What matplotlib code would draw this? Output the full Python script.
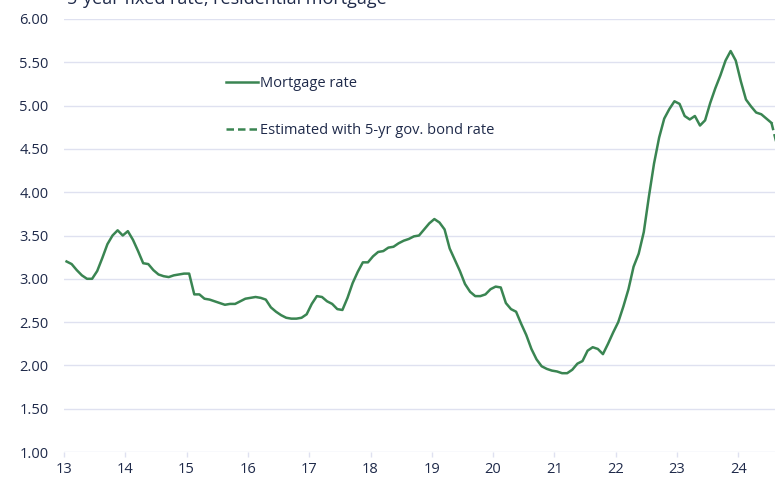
import numpy as np
import matplotlib.pyplot as plt

# monthly 5-year fixed mortgage rate, Jan 2013 - Aug 2024
rate = [3.20, 3.17, 3.10, 3.04, 3.00, 3.00, 3.09, 3.24, 3.40, 3.50, 3.56, 3.50,
        3.55, 3.45, 3.32, 3.18, 3.17, 3.10, 3.05, 3.03, 3.02, 3.04, 3.05, 3.06,
        3.06, 2.82, 2.82, 2.77, 2.76, 2.74, 2.72, 2.70, 2.71, 2.71, 2.74, 2.77,
        2.78, 2.79, 2.78, 2.76, 2.67, 2.62, 2.58, 2.55, 2.54, 2.54, 2.55, 2.59,
        2.71, 2.80, 2.79, 2.74, 2.71, 2.65, 2.64, 2.78, 2.95, 3.08, 3.19, 3.19,
        3.26, 3.31, 3.32, 3.36, 3.37, 3.41, 3.44, 3.46, 3.49, 3.50, 3.57, 3.64,
        3.69, 3.65, 3.57, 3.35, 3.22, 3.09, 2.94, 2.85, 2.80, 2.80, 2.82, 2.88,
        2.91, 2.90, 2.72, 2.65, 2.62, 2.48, 2.35, 2.19, 2.07, 1.99, 1.96, 1.94,
        1.93, 1.91, 1.91, 1.95, 2.02, 2.05, 2.17, 2.21, 2.19, 2.13, 2.25, 2.38,
        2.50, 2.68, 2.88, 3.14, 3.29, 3.54, 3.95, 4.33, 4.63, 4.85, 4.96, 5.05,
        5.02, 4.88, 4.84, 4.88, 4.77, 4.83, 5.03, 5.20, 5.35, 5.52, 5.63, 5.52,
        5.28, 5.07, 4.99, 4.92, 4.90, 4.85, 4.80]
# last month estimated from the 5-yr government bond rate
estimated = [4.80, 4.56]

years = list(range(13, 25))
yticks = [1.0, 1.5, 2.0, 2.5, 3.0, 3.5, 4.0, 4.5, 5.0, 5.5, 6.0]

green = '#3a8552'
navy = '#1f2a4a'
grid = '#dfe1f0'

x = 13 + (np.arange(len(rate)) + 0.5) / 12
x_est = 13 + (np.arange(len(rate) - 1, len(rate) + 1) + 0.5) / 12

plt.rcParams['font.family'] = ['Open Sans', 'DejaVu Sans']

fig = plt.figure(figsize=(7.75, 4.78), dpi=100)
ax = fig.add_axes([64 / 775, 1 - 452 / 478, 1 - 64 / 775, (452 - 19) / 478])

ax.plot(x, rate, color=green, lw=1.8, label='Mortgage rate', solid_joinstyle='round')
ax.plot(x_est, estimated, color=green, lw=1.8, ls=(0, (3, 1.6)),
        label='Estimated with 5-yr gov. bond rate')

ax.set_xlim(13, 13 + (775 - 64) / 61.3)
ax.set_ylim(1, 6)
ax.set_xticks(years)
ax.set_xticklabels([str(y) for y in years])
ax.set_yticks(yticks)
ax.set_yticklabels([f'{v:.2f}' for v in yticks])

ax.grid(axis='y', color=grid, lw=1)
ax.set_axisbelow(True)
for s in ax.spines.values():
    s.set_visible(False)
ax.tick_params(axis='y', length=0, pad=11, labelsize=10.5, labelcolor=navy)
ax.tick_params(axis='x', length=3.5, width=1, color=grid, pad=4,
               labelsize=10.5, labelcolor=navy)

ax.legend(loc='upper left', bbox_to_anchor=(226 / 775, 1 - 76 / 478),
          bbox_transform=fig.transFigure, frameon=False, fontsize=10.5,
          labelcolor=navy, borderpad=0, borderaxespad=0, handlelength=2.2,
          handletextpad=0.15, labelspacing=2.2)

fig.text(67 / 775, 1 - 4 / 478, '5-year fixed rate, residential mortgage',
         fontsize=13, color=navy, va='baseline', ha='left')

fig.savefig('out.png', dpi=100)
